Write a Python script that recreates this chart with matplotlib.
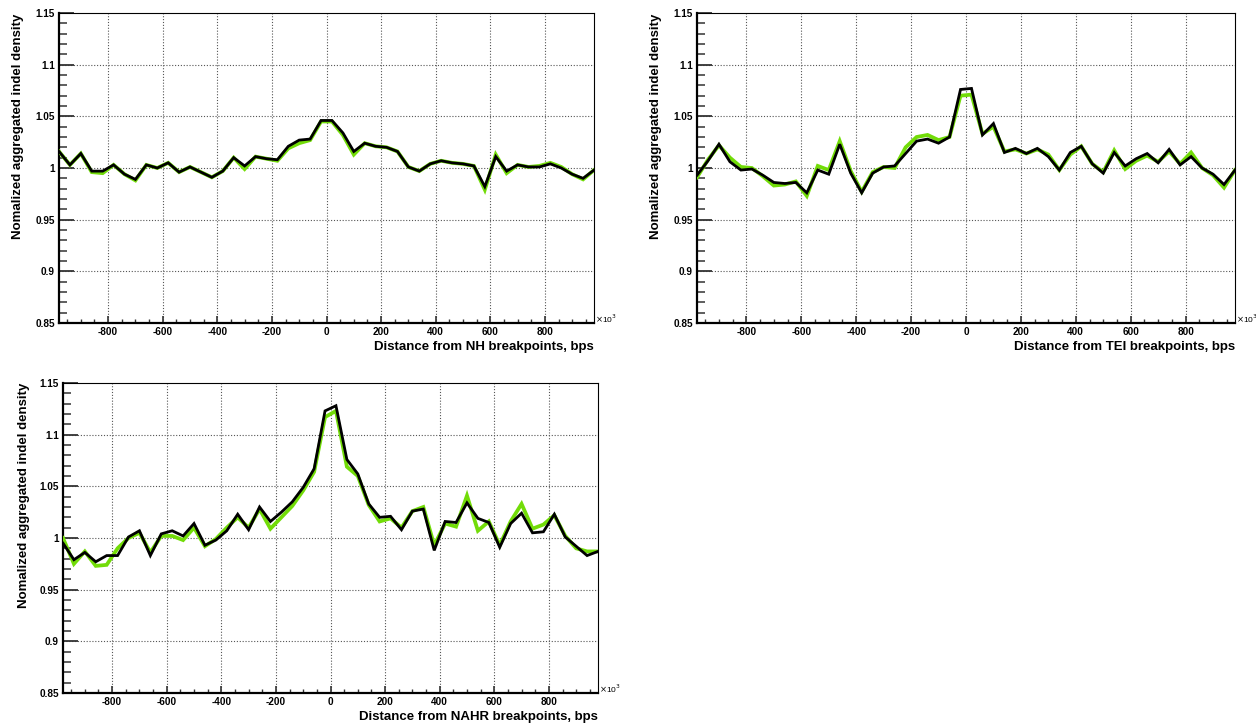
import matplotlib
matplotlib.use("Agg")
import matplotlib.pyplot as plt
from matplotlib.ticker import FixedLocator, MultipleLocator

plt.rcParams['font.family'] = ['Liberation Sans', 'DejaVu Sans']

# bin centres, in units of 10^3 bps
dist_kb = [-980, -940, -900, -860, -820, -780, -740, -700, -660, -620,
           -580, -540, -500, -460, -420, -380, -340, -300, -260, -220,
           -180, -140, -100, -60, -20, 20, 60, 100, 140, 180,
           220, 260, 300, 340, 380, 420, 460, 500, 540, 580,
           620, 660, 700, 740, 780, 820, 860, 900, 940, 980]

nh_green = [1.016, 1.003, 1.014, 0.996, 0.995, 1.003, 0.994, 0.988, 1.003, 1.000,
            1.005, 0.996, 1.001, 0.996, 0.991, 0.997, 1.010, 0.999, 1.011, 1.009,
            1.007, 1.019, 1.024, 1.027, 1.045, 1.045, 1.032, 1.013, 1.024, 1.021,
            1.020, 1.016, 1.001, 0.997, 1.004, 1.007, 1.005, 1.004, 1.002, 0.979,
            1.013, 0.995, 1.003, 1.001, 1.002, 1.005, 1.001, 0.994, 0.989, 0.998]
nh_black = [1.016, 1.003, 1.014, 0.997, 0.997, 1.003, 0.994, 0.989, 1.003, 1.000,
            1.005, 0.996, 1.001, 0.996, 0.991, 0.997, 1.010, 1.002, 1.011, 1.009,
            1.008, 1.021, 1.027, 1.028, 1.046, 1.046, 1.034, 1.016, 1.024, 1.021,
            1.020, 1.016, 1.001, 0.997, 1.004, 1.007, 1.005, 1.004, 1.002, 0.982,
            1.011, 0.997, 1.003, 1.001, 1.001, 1.004, 1.000, 0.994, 0.990, 0.998]

tei_green = [0.991, 1.008, 1.022, 1.010, 1.001, 1.000, 0.992, 0.983, 0.984, 0.987,
             0.973, 1.002, 0.998, 1.026, 0.997, 0.977, 0.996, 1.001, 1.000, 1.020,
             1.030, 1.032, 1.027, 1.030, 1.070, 1.071, 1.033, 1.040, 1.016, 1.018,
             1.014, 1.018, 1.013, 0.998, 1.013, 1.021, 1.004, 0.996, 1.017, 0.999,
             1.007, 1.012, 1.006, 1.016, 1.004, 1.015, 1.000, 0.993, 0.981, 0.998]
tei_black = [0.993, 1.007, 1.023, 1.006, 0.998, 0.999, 0.993, 0.986, 0.985, 0.986,
             0.976, 0.998, 0.994, 1.023, 0.995, 0.976, 0.995, 1.001, 1.002, 1.014,
             1.026, 1.028, 1.024, 1.030, 1.076, 1.077, 1.032, 1.043, 1.015, 1.019,
             1.014, 1.019, 1.011, 0.998, 1.015, 1.021, 1.004, 0.995, 1.015, 1.002,
             1.009, 1.014, 1.005, 1.018, 1.003, 1.011, 1.000, 0.994, 0.984, 0.998]

nahr_green = [1.000, 0.975, 0.987, 0.973, 0.974, 0.990, 1.000, 1.005, 0.986, 1.002,
              1.002, 0.998, 1.010, 0.992, 0.999, 1.010, 1.020, 1.010, 1.028, 1.009,
              1.020, 1.031, 1.046, 1.064, 1.117, 1.123, 1.069, 1.060, 1.032, 1.016,
              1.019, 1.010, 1.026, 1.030, 0.993, 1.014, 1.011, 1.041, 1.007, 1.016,
              0.993, 1.016, 1.033, 1.009, 1.013, 1.022, 1.002, 0.990, 0.987, 0.987]
nahr_black = [0.995, 0.979, 0.986, 0.977, 0.983, 0.983, 1.001, 1.007, 0.983, 1.004,
              1.007, 1.002, 1.014, 0.993, 0.998, 1.007, 1.023, 1.008, 1.030, 1.016,
              1.025, 1.035, 1.049, 1.067, 1.123, 1.128, 1.076, 1.062, 1.033, 1.020,
              1.021, 1.008, 1.026, 1.028, 0.988, 1.016, 1.015, 1.034, 1.019, 1.015,
              0.991, 1.014, 1.024, 1.005, 1.006, 1.023, 1.001, 0.992, 0.983, 0.987]

x_ticks = [-800, -600, -400, -200, 0, 200, 400, 600, 800]
y_ticks = [0.85, 0.9, 0.95, 1.0, 1.05, 1.1, 1.15]
y_ticklabels = ['0.85', '0.9', '0.95', '1', '1.05', '1.1', '1.15']
y_label = 'Nomalized aggregated indel density'

W, H = 1256, 723
fig = plt.figure(figsize=(W / 100, H / 100), dpi=100)


def px_axes(left, top, right, bottom):
    return fig.add_axes([left / W, 1 - bottom / H, (right - left) / W, (bottom - top) / H])


def draw_panel(ax, green, black, name):
    ax.plot(dist_kb, green, color='#72dc08', lw=2.7, solid_joinstyle='miter', zorder=3)
    ax.plot(dist_kb, black, color='black', lw=2.0, solid_joinstyle='miter', zorder=4)
    ax.set_xlim(-980, 980)
    ax.set_ylim(0.85, 1.15)

    # ROOT-like frame: heavy left/bottom axis, thin top/right
    ax.spines['left'].set_linewidth(1.6)
    ax.spines['bottom'].set_linewidth(1.6)
    ax.spines['top'].set_linewidth(0.8)
    ax.spines['right'].set_linewidth(0.8)

    ax.xaxis.set_major_locator(FixedLocator(x_ticks))
    ax.set_xticklabels([str(v) for v in x_ticks])
    ax.xaxis.set_minor_locator(MultipleLocator(50))
    ax.yaxis.set_major_locator(FixedLocator(y_ticks))
    ax.set_yticklabels(y_ticklabels)
    ax.yaxis.set_minor_locator(MultipleLocator(0.01))

    ax.tick_params(axis='both', which='both', direction='in', top=False, right=False,
                   color='#333333')
    ax.tick_params(axis='y', which='major', length=11, width=1.3, pad=3, labelsize=7.2)
    ax.tick_params(axis='y', which='minor', length=5.5, width=1.1)
    ax.tick_params(axis='x', which='major', length=5, width=1.2, pad=3, labelsize=7.2)
    ax.tick_params(axis='x', which='minor', length=3, width=1.0)
    for lab in ax.get_xticklabels() + ax.get_yticklabels():
        lab.set_fontweight('bold')

    for xv in x_ticks:
        ax.axvline(xv, color='#555555', lw=0.8, ls=(0, (1, 1.6)), zorder=1)
    for yv in y_ticks[1:-1]:
        ax.axhline(yv, color='#555555', lw=0.8, ls=(0, (1, 1.6)), zorder=1)

    ax.set_xlabel(f'Distance from {name} breakpoints, bps', fontsize=9.5, fontweight='bold',
                  ha='right', x=1.0, labelpad=3)
    ax.text(1.002, 0.012, r'$\times$10$^3$', transform=ax.transAxes, fontsize=6,
            ha='left', va='center')


ax1 = px_axes(59, 13, 594, 323)
draw_panel(ax1, nh_green, nh_black, 'NH')
fig.text(18 / W, 1 - 14 / H, y_label, rotation=90, ha='center', va='top',
         fontsize=9.5, fontweight='bold')

ax2 = px_axes(697, 13, 1235, 323)
draw_panel(ax2, tei_green, tei_black, 'TEI')
fig.text(656 / W, 1 - 14 / H, y_label, rotation=90, ha='center', va='top',
         fontsize=9.5, fontweight='bold')

ax3 = px_axes(63, 383, 598, 693)
draw_panel(ax3, nahr_green, nahr_black, 'NAHR')
fig.text(24 / W, 1 - 383 / H, y_label, rotation=90, ha='center', va='top',
         fontsize=9.5, fontweight='bold')

fig.savefig('out.png', dpi=100)
